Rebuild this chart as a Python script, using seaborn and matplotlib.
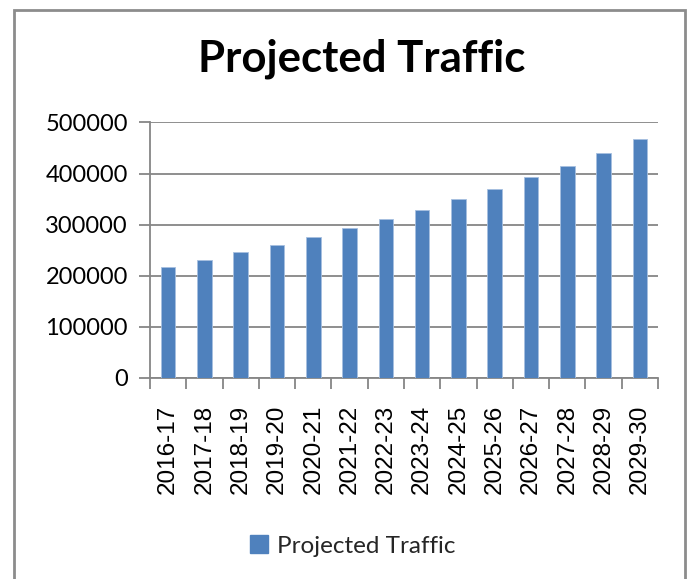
import matplotlib
matplotlib.use("Agg")
import matplotlib.pyplot as plt
import matplotlib.patches as mpatches
from matplotlib.ticker import FixedLocator
import seaborn as sns
import pandas as pd

# Financial years and projected traffic volumes
years = ["2016-17", "2017-18", "2018-19", "2019-20", "2020-21", "2021-22", "2022-23",
         "2023-24", "2024-25", "2025-26", "2026-27", "2027-28", "2028-29", "2029-30"]
traffic = [218000, 231500, 246500, 261000, 276500, 293500, 311000,
           329500, 349500, 370500, 392500, 415500, 441000, 468000]
y_ticks = [0, 100000, 200000, 300000, 400000, 500000]

series_name = "Projected Traffic"
bar_color = "#4F81BD"
grid_color = "#868686"

df = pd.DataFrame({"year": years, "traffic": traffic})

sns.set_theme(style="white")
plt.rcParams["font.family"] = ["Lato", "DejaVu Sans"]

fig = plt.figure(figsize=(6.87, 5.79), dpi=100)
ax = fig.add_axes([150 / 687, 1 - 378 / 579, 508 / 687, 255.5 / 579])

sns.barplot(data=df, x="year", y="traffic", color=bar_color, width=0.4,
            saturation=1, edgecolor="#A7C0E0", linewidth=0.6, ax=ax, zorder=3)

ax.set_xlim(-0.5, len(years) - 0.5)
ax.set_ylim(0, 500000)
ax.set_yticks(y_ticks)
ax.set_yticklabels([str(v) for v in y_ticks], fontsize=17, color="#000000")
ax.yaxis.grid(True, color=grid_color, linewidth=1.3, zorder=0)
ax.set_axisbelow(True)

ax.set_xticks(range(len(years)))
ax.set_xticklabels(years, rotation=90, fontsize=17.5, color="#000000",
                   family=["Liberation Sans", "DejaVu Sans"])
ax.tick_params(axis="x", which="major", length=0, pad=19)
ax.xaxis.set_minor_locator(FixedLocator([i - 0.5 for i in range(len(years) + 1)]))
ax.tick_params(axis="x", which="minor", length=8, width=1.3, color=grid_color,
               direction="out", bottom=True)
ax.tick_params(axis="y", length=8, width=1.3, color=grid_color, direction="out",
               left=True, pad=8)

ax.set_xlabel("")
ax.set_ylabel("")
for side in ("top", "right"):
    ax.spines[side].set_visible(False)
for side in ("left", "bottom"):
    ax.spines[side].set_color(grid_color)
    ax.spines[side].set_linewidth(1.3)

fig.text(0.527, 0.898, series_name, ha="center", va="center",
         fontsize=31.5, fontweight="bold", color="#000000")

handle = mpatches.Patch(facecolor=bar_color, edgecolor=bar_color, label=series_name)
fig.legend(handles=[handle], loc="center", bbox_to_anchor=(0.514, 0.057),
           frameon=False, fontsize=17.5, handlelength=0.7, handleheight=0.7,
           handletextpad=0.4)

# Chart area frame
frame = mpatches.Rectangle((14 / 687, -0.05), 671 / 687, 1.05 - 10 / 579,
                           transform=fig.transFigure, fill=False,
                           edgecolor="#8C8C8C", linewidth=2, clip_on=False)
fig.patches.append(frame)

fig.savefig("out.png", dpi=100)
